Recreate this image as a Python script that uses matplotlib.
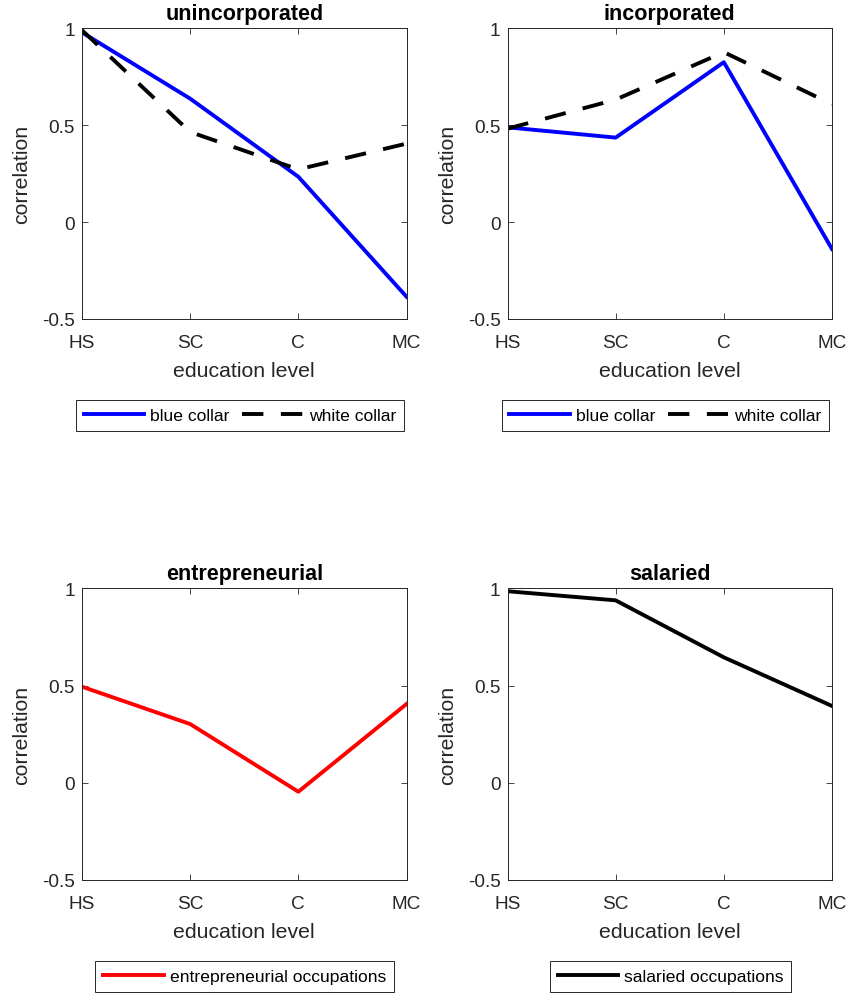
import numpy as np
import matplotlib
matplotlib.use("Agg")
import matplotlib.pyplot as plt

# data
levels = ["HS", "SC", "C", "MC"]
uninc_blue = [0.979, 0.637, 0.234, -0.385]
uninc_white = [0.99, 0.465, 0.272, 0.405]
inc_blue = [0.489, 0.436, 0.825, -0.139]
inc_white = [0.482, 0.632, 0.877, 0.608]
entrepreneurial = [0.494, 0.302, -0.046, 0.405]
salaried = [0.985, 0.938, 0.645, 0.395]

plt.rcParams['font.family'] = ['Liberation Sans', 'DejaVu Sans']

W, H = 850, 995
fig = plt.figure(figsize=(W / 100, H / 100), dpi=100)

def px_axes(x0, y0, x1, y1):
    return fig.add_axes([x0 / W, 1 - y1 / H, (x1 - x0) / W, (y1 - y0) / H])

def style(ax, title):
    x = np.arange(1, len(levels) + 1)
    ax.set_xlim(1, 4)
    ax.set_ylim(-0.5, 1)
    ax.set_xticks(x)
    ax.set_xticklabels(levels)
    ax.set_yticks([-0.5, 0, 0.5, 1])
    ax.set_yticklabels(['-0.5', '0', '0.5', '1'])
    ax.tick_params(direction='in', length=4, width=0.6, top=True, right=True,
                   labelsize=13.7, colors='0.15')
    ax.tick_params(axis='x', pad=11)
    ax.tick_params(axis='y', pad=5)
    for s in ax.spines.values():
        s.set_color('0.15')
        s.set_linewidth(0.7)
    ax.set_xlabel('education level', fontsize=15.3, color='0.15', labelpad=7)
    ax.set_ylabel('correlation', fontsize=15.3, color='0.15', labelpad=8)
    ax.set_title(title, fontsize=15.5, fontweight='bold', pad=7)

def legend(ax, cx, cy, ncol):
    leg = ax.legend(loc='center', bbox_to_anchor=(cx / W, 1 - cy / H),
                    bbox_transform=fig.transFigure, ncol=ncol, fontsize=12.6,
                    handlelength=3.45, handletextpad=0.35, columnspacing=0.7,
                    borderpad=0.45, borderaxespad=0, fancybox=False,
                    framealpha=1, edgecolor='0.15')
    leg.get_frame().set_linewidth(0.7)

x = np.arange(1, len(levels) + 1)
lw = 2.8
dash = (5.5, 4.5)

ax1 = px_axes(82, 29.3, 406.5, 320)
ax1.plot(x, uninc_blue, color='b', lw=lw, label='blue collar')
ax1.plot(x, uninc_white, color='k', lw=lw, ls='--', dashes=dash, label='white collar')
style(ax1, 'unincorporated')
legend(ax1, 240, 416.5, 2)

ax2 = px_axes(507.5, 29.3, 832, 320)
ax2.plot(x, inc_blue, color='b', lw=lw, label='blue collar')
ax2.plot(x, inc_white, color='k', lw=lw, ls='--', dashes=dash, label='white collar')
style(ax2, 'incorporated')
legend(ax2, 665.5, 416.5, 2)

ax3 = px_axes(82, 589.3, 406.5, 881)
ax3.plot(x, entrepreneurial, color='r', lw=lw, label='entrepreneurial occupations')
style(ax3, 'entrepreneurial')
legend(ax3, 244.5, 977.5, 1)

ax4 = px_axes(507.5, 589.3, 832, 881)
ax4.plot(x, salaried, color='k', lw=lw, label='salaried occupations')
style(ax4, 'salaried')
legend(ax4, 670.5, 977.5, 1)

fig.savefig('out.png', dpi=100)
